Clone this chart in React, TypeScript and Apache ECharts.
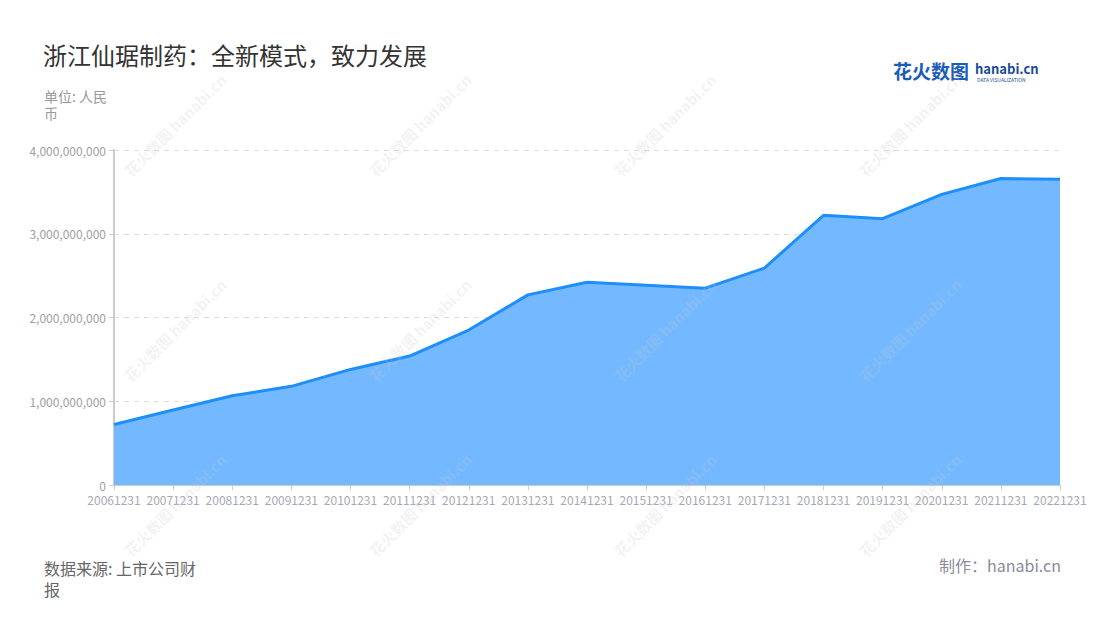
import React, { useEffect, useRef } from "react";
import * as echarts from "echarts";

const categories = [
  "20061231", "20071231", "20081231", "20091231", "20101231", "20111231",
  "20121231", "20131231", "20141231", "20151231", "20161231", "20171231",
  "20181231", "20191231", "20201231", "20211231", "20221231",
];
const revenue = [
  722000000, 895000000, 1066000000, 1178000000, 1380000000, 1540000000,
  1850000000, 2270000000, 2420000000, 2385000000, 2350000000, 2590000000,
  3220000000, 3180000000, 3470000000, 3660000000, 3650000000,
];
const titleText = "浙江仙琚制药：全新模式，致力发展";
const unitText = "单位: 人民币";
const sourceText = "数据来源: 上市公司财报";
const makerText = "制作：hanabi.cn";

const FONT = "'Noto Sans CJK SC', 'Noto Sans', sans-serif";

function watermarks() {
  const out: any[] = [];
  const xs = [175, 420, 665, 910];
  const ys = [125, 330, 505];
  for (const x of xs) {
    for (const y of ys) {
      out.push({
        type: "text",
        x,
        y,
        rotation: Math.PI / 4,
        silent: true,
        z: 100,
        style: {
          text: "花火数图 hanabi.cn",
          fill: "rgba(200,200,200,0.22)",
          font: `bold 15px ${FONT}`,
          textAlign: "center",
          textVerticalAlign: "middle",
        },
      });
    }
  }
  return out;
}

export default function App() {
  const ref = useRef<HTMLDivElement>(null);
  useEffect(() => {
    if (!ref.current) return;
    const chart = echarts.init(ref.current, undefined, { renderer: "svg" });
    chart.setOption({
      animation: false,
      backgroundColor: "#fff",
      textStyle: { fontFamily: FONT },
      title: {
        text: titleText,
        left: 38,
        top: 37,
        textStyle: { fontSize: 24, fontWeight: "normal", color: "#333", fontFamily: FONT },
      },
      grid: { left: 114, right: 40, top: 150, bottom: 135 },
      xAxis: {
        type: "category",
        data: categories,
        boundaryGap: false,
        axisLine: { lineStyle: { color: "#ccc", width: 1 } },
        axisTick: { show: true, alignWithLabel: true, lineStyle: { color: "#ccc" } },
        axisLabel: { color: "#a6a9b2", fontSize: 12, interval: 0, margin: 8, fontFamily: FONT },
      },
      yAxis: {
        type: "value",
        min: 0,
        max: 4000000000,
        interval: 1000000000,
        axisLine: { show: true, lineStyle: { color: "#ccc", width: 2 } },
        axisTick: { show: true, length: 5, lineStyle: { color: "#ccc" } },
        axisLabel: {
          color: "#a0a0a0",
          fontSize: 12,
          margin: 8,
          fontFamily: FONT,
          formatter: (v: number) => v.toLocaleString("en-US"),
        },
        splitLine: { lineStyle: { color: "#ddd", type: [5, 5] } },
      },
      series: [
        {
          type: "line",
          data: revenue,
          symbol: "none",
          lineStyle: { color: "#1E8FFA", width: 3 },
          itemStyle: { color: "#1E8FFA" },
          areaStyle: { color: "#74B9FF", opacity: 1 },
        },
      ],
      graphic: [
        {
          type: "text",
          left: 44,
          top: 87,
          style: {
            text: unitText,
            width: 72,
            overflow: "break",
            fill: "#999",
            font: `14px ${FONT}`,
            lineHeight: 17,
          },
        },
        {
          type: "text",
          left: 44,
          top: 557,
          style: {
            text: sourceText,
            width: 158,
            overflow: "break",
            fill: "#666",
            font: `16px ${FONT}`,
            lineHeight: 21,
          },
        },
        {
          type: "text",
          right: 39,
          top: 557,
          style: {
            text: makerText,
            fill: "#8a8a9a",
            font: `16px ${FONT}`,
          },
        },
        {
          type: "text",
          left: 893,
          top: 61,
          style: {
            text: "花火数图",
            fill: "#1c5db8",
            font: `bold 19px ${FONT}`,
          },
        },
        {
          type: "text",
          left: 975,
          top: 62,
          style: {
            text: "hanabi.cn",
            fill: "#1c4a9a",
            font: `bold 13px ${FONT}`,
          },
        },
        {
          type: "text",
          left: 977,
          top: 77,
          style: {
            text: "DATA VISUALIZATION",
            fill: "#1c4a9a",
            font: `5px ${FONT}`,
          },
        },
        ...watermarks(),
      ],
    });
    return () => chart.dispose();
  }, []);
  return (
    <div
      ref={ref}
      style={{ position: "fixed", left: 0, top: 0, width: 1100, height: 620 }}
    />
  );
}
